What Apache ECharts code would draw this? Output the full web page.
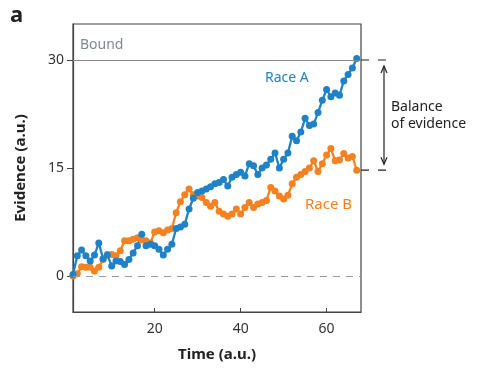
<!DOCTYPE html>
<html>
<head>
<meta charset="utf-8">
<script src="https://cdn.jsdelivr.net/npm/echarts@6/dist/echarts.min.js"></script>
<style>
html,body{margin:0;padding:0;background:#fff;}
#c{width:483px;height:375px;}
</style>
</head>
<body>
<div id="c"></div>
<script>
const times = [1,2,3,4,5,6,7,8,9,10,11,12,13,14,15,16,17,18,19,20,21,22,23,24,25,26,27,28,29,30,31,32,33,34,35,36,37,38,39,40,41,42,43,44,45,46,47,48,49,50,51,52,53,54,55,56,57,58,59,60,61,62,63,64,65,66,67];
const raceA = [0.2,2.8,3.6,2.8,2.1,2.9,4.6,2.4,2.9,1.4,2.1,2.0,1.6,2.3,3.2,4.2,5.8,4.2,4.4,4.2,3.7,2.9,3.7,4.4,6.6,6.8,7.2,9.3,10.8,11.6,11.8,12.1,12.4,12.8,13.0,13.4,12.5,13.7,14.1,14.4,13.9,15.6,15.3,14.1,15.0,15.4,16.2,17.1,15.0,16.2,17.1,19.4,18.8,20.0,21.9,20.9,21.1,22.7,24.4,25.9,24.9,25.4,25.1,27.1,28.0,28.9,30.2];
const raceB = [0,0.3,1.3,1.2,1.2,0.7,1.2,2.3,3.0,3.0,2.8,3.5,4.9,4.9,5.1,5.3,5.0,4.9,4.6,6.1,6.3,6.0,6.4,6.6,8.8,10.3,11.3,12.1,11.3,11.1,10.9,10.2,9.7,10.2,9.0,8.6,8.3,8.6,9.3,8.6,9.5,10.2,9.5,10.0,10.2,10.5,12.3,11.8,11.1,10.7,11.2,12.8,13.7,14.1,14.5,15.0,16.0,14.5,15.6,16.8,17.7,16.0,16.1,17.0,16.4,16.6,14.7];
const yTicks = [0, 15, 30];
const xTicks = [20, 40, 60];
const boundValue = 30;
const xRange = [1, 68];
const yRange = [-5, 35];

const colA = '#1f82c7';
const colB = '#f68121';
const font = 'Noto Sans';

const chart = echarts.init(document.getElementById('c'), null, {renderer: 'canvas'});

function pairs(vals) { return times.map((t, i) => [t, vals[i]]); }

chart.setOption({
  animation: false,
  textStyle: {fontFamily: font},
  grid: {left: 73, right: 122, top: 24, bottom: 63, show: true, borderColor: '#444', borderWidth: 1.2},
  xAxis: {
    type: 'value', min: xRange[0], max: xRange[1],
    name: 'Time (a.u.)', nameLocation: 'middle', nameGap: 35,
    nameTextStyle: {fontFamily: font, fontWeight: 'bold', fontSize: 15, color: '#222'},
    axisLine: {onZero: false, lineStyle: {color: '#444', width: 1.2}},
    axisTick: {show: true, inside: true, length: 4, customValues: xTicks, lineStyle: {color: '#444'}},
    axisLabel: {customValues: xTicks, fontSize: 14, color: '#333', margin: 10, fontFamily: font},
    splitLine: {show: false}
  },
  yAxis: {
    type: 'value', min: yRange[0], max: yRange[1],
    name: 'Evidence (a.u.)', nameLocation: 'middle', nameGap: 45, nameRotate: 90,
    nameTextStyle: {fontFamily: font, fontWeight: 'bold', fontSize: 15, color: '#222'},
    axisLine: {show: true, onZero: false, lineStyle: {color: '#444', width: 1.2}},
    axisTick: {show: true, length: 6, customValues: yTicks, lineStyle: {color: '#444'}},
    axisLabel: {customValues: yTicks, fontSize: 14, color: '#333', margin: 9, fontFamily: font},
    splitLine: {show: false}
  },
  series: [
    {
      name: 'Race B', type: 'line', data: pairs(raceB), symbol: 'circle', symbolSize: 7,
      itemStyle: {color: colB}, lineStyle: {color: colB, width: 2.3},
      markLine: {
        silent: true, symbol: 'none', label: {show: false},
        lineStyle: {color: '#9a9a9a', type: [7, 6], width: 1.2},
        data: [{yAxis: 0}]
      }
    },
    {
      name: 'Race A', type: 'line', data: pairs(raceA), symbol: 'circle', symbolSize: 7,
      itemStyle: {color: colA}, lineStyle: {color: colA, width: 2.3},
      markLine: {
        silent: true, symbol: 'none', label: {show: false},
        lineStyle: {color: '#8a8a8a', type: 'solid', width: 1.2},
        data: [{yAxis: boundValue}]
      }
    }
  ]
});

const pBound = chart.convertToPixel({gridIndex: 0}, [xRange[1], boundValue]);
const pB = chart.convertToPixel({gridIndex: 0}, [xRange[1], raceB[raceB.length - 1]]);
const xr = pBound[0];
const yTop = pBound[1];
const yBot = pB[1];
const ax = xr + 23;
const dashStyle = {stroke: '#222', lineWidth: 1.2, lineDash: [8, 9]};
const headStyle = {stroke: '#222', lineWidth: 1.2, fill: null};

chart.setOption({
  graphic: [
    {type: 'text', left: 10, top: 5, style: {text: 'a', fontFamily: font, fontWeight: 'bold', fontSize: 22, fill: '#222'}},
    {type: 'text', left: 80, top: 38, style: {text: 'Bound', fontFamily: font, fontSize: 14, fill: '#7f8a8c'}},
    {type: 'text', left: 265, top: 71, style: {text: 'Race A', fontFamily: font, fontSize: 14, fill: colA}},
    {type: 'text', left: 305, top: 197, style: {text: 'Race B', fontFamily: font, fontSize: 15, fill: colB}},
    {type: 'text', left: 391, top: 99, style: {text: 'Balance\nof evidence', fontFamily: font, fontSize: 14, lineHeight: 17, fill: '#222'}},
    {type: 'line', shape: {x1: xr, y1: yTop, x2: xr + 32, y2: yTop}, style: dashStyle},
    {type: 'line', shape: {x1: xr, y1: yBot, x2: xr + 32, y2: yBot}, style: dashStyle},
    {type: 'line', shape: {x1: ax, y1: yTop + 6, x2: ax, y2: yBot - 6}, style: {stroke: '#222', lineWidth: 1.2}},
    {type: 'polyline', shape: {points: [[ax - 3, yTop + 13], [ax, yTop + 6], [ax + 3, yTop + 13]]}, style: headStyle},
    {type: 'polyline', shape: {points: [[ax - 3, yBot - 13], [ax, yBot - 6], [ax + 3, yBot - 13]]}, style: headStyle}
  ]
});
</script>
</body>
</html>
